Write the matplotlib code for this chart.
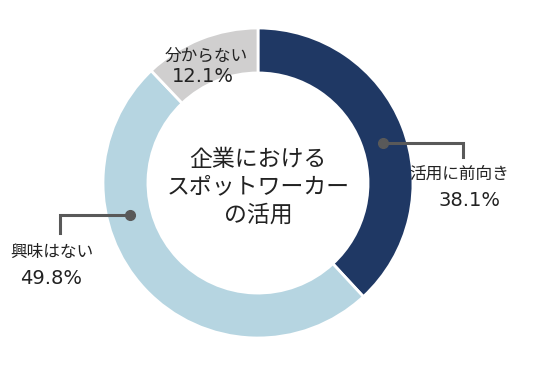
import matplotlib
matplotlib.use("Agg")
import matplotlib.pyplot as plt

plt.rcParams['font.family'] = ['Noto Sans CJK JP', 'DejaVu Sans']

labels = ['活用に前向き', '興味はない', '分からない']
values = [38.1, 49.8, 12.1]
colors = ['#1f3864', '#b6d5e1', '#d0cfcf']
center_lines = ['企業における', 'スポットワーカー', 'の活用']

fig = plt.figure(figsize=(5.36, 3.67), dpi=100)
ax = fig.add_axes([0, 0, 1, 1])

cx, cy, R = 258, 184, 155
ax.pie(values, colors=colors, startangle=90, counterclock=False,
       center=(cx, cy), radius=R, frame=True,
       wedgeprops=dict(width=R * 0.29, edgecolor='white', linewidth=2))
ax.set_xlim(0, 536)
ax.set_ylim(0, 367)
ax.set_aspect('equal')
ax.axis('off')

txt = '#222222'
lc = '#595959'

# center title
for i, s in enumerate(center_lines):
    ax.text(cx, 208 - 28 * i, s, ha='center', va='center', fontsize=16.5, color=txt)

def label(xk, yk, xp, yp, name, val):
    ax.text(xk, yk, name, ha='center', va='center', fontsize=12, color=txt)
    ax.text(xp, yp, f'{val}%', ha='center', va='center', fontsize=14,
            color=txt, family='DejaVu Sans')

# 活用に前向き
ax.plot([383, 463, 463], [224, 224, 210], color=lc, lw=2.2, solid_joinstyle='miter')
ax.plot(383, 224, 'o', color=lc, ms=7)
label(459, 193, 470, 167, labels[0], values[0])
# 興味はない
ax.plot([130, 60, 60], [152, 152, 134], color=lc, lw=2.2, solid_joinstyle='miter')
ax.plot(130, 152, 'o', color=lc, ms=7)
label(52, 115, 51, 88, labels[1], values[1])
# 分からない
label(206, 311, 203, 290, labels[2], values[2])

fig.savefig('out.png', dpi=100)
